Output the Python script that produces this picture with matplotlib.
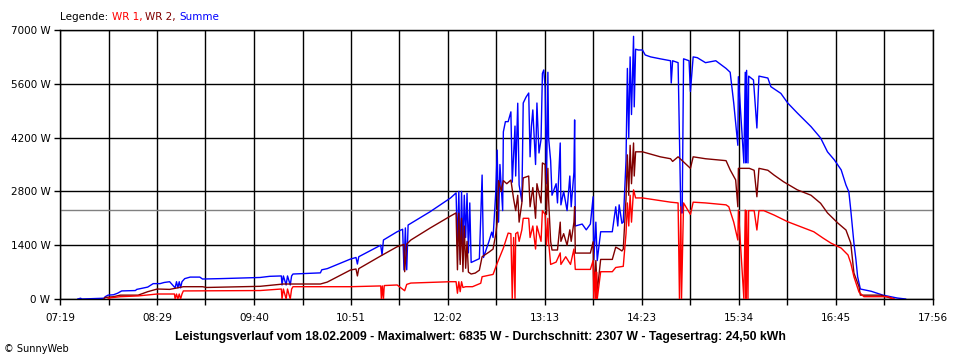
import matplotlib
matplotlib.use("Agg")
import matplotlib.pyplot as plt
from matplotlib.offsetbox import TextArea, HPacker, AnchoredOffsetbox
import numpy as np

# Zeit in Minuten seit Mitternacht, Leistung in W
t_summe = [452, 454, 455, 462, 471, 472, 474, 478, 481, 484, 494, 495, 503, 507, 512, 515, 519,
           523, 524, 525, 526, 527, 528, 530, 534, 541, 543, 556, 570, 585, 592, 600.5,
           601, 602, 604, 605, 607, 608, 609, 629, 630, 634, 651, 655, 656, 657, 673, 674, 675,
           685, 689, 690, 691, 692, 693, 709, 724, 728, 729, 730, 731, 732, 733, 734, 735, 736,
           737, 738, 739, 742, 745, 747, 748, 752, 754, 755, 757, 758, 759, 760, 762, 762.5,
           764, 766, 768, 769, 771, 771.5, 773, 774, 776, 777, 779, 781, 782, 783, 784, 786,
           787, 788.5, 790, 791, 792, 793, 794, 795, 795.5, 797, 798, 801, 802, 804, 804.5,
           806.5, 809, 811, 812, 814, 814.5, 815, 820, 823, 826, 828, 828.5, 830, 831, 833.5,
           842, 844.5, 846, 847, 849, 850, 852, 853, 854, 855, 856, 857.5, 858, 859, 861, 864,
           866, 870, 877, 884.5, 885, 886, 890, 892, 893, 894, 898, 899, 901, 904, 910, 917.5,
           925, 928, 930.6, 932, 933.6, 934, 938, 939, 939.5, 940, 941, 941.5, 945, 947.5, 949,
           955.5, 957.7, 965, 970, 977, 987, 994, 999, 1004, 1009, 1012.5, 1014.6, 1016, 1018.3,
           1019.8, 1021, 1023, 1031, 1039.5, 1050, 1056]
p_summe = [0, 20, 0, 10, 20, 60, 100, 110, 150, 210, 220, 250, 310, 400, 400, 430, 450,
           290, 450, 290, 450, 290, 450, 530, 570, 570, 520, 530, 545, 560, 590, 600,
           365, 600, 365, 600, 365, 600, 650, 680, 760, 790, 1040, 1080, 910, 1100, 1400, 1145, 1535,
           1750, 1815, 755, 1850, 760, 1925, 2270, 2630, 2760, 1360, 2800, 1015, 2800, 1300, 2700,
           1600, 2750, 1200, 2500, 950, 1000, 1050, 3225, 1080, 1500, 1740, 1600, 2800, 3875,
           2000, 3500, 2300, 4350, 4615, 4615, 4870, 3040, 4500, 3200, 5095, 2970, 2540, 5100,
           5250, 5360, 3700, 4500, 4920, 3500, 5100, 3800, 4150, 5870, 5960, 5500, 3000, 5900,
           4200, 3600, 2700, 3000, 2500, 4060, 2450, 2800, 2300, 3200, 2400, 3300, 4660, 1900,
           1950, 1800, 1950, 2660, 1015, 2000, 1000, 1750, 1750, 2400, 1900, 2450, 1970, 2000,
           3600, 6000, 4200, 6300, 4800, 6835, 5000, 6500, 6480, 6480, 6350, 6300, 6250, 6200,
           5620, 6200, 6150, 2240, 2240, 6250, 6200, 5400, 6300, 6280, 6150, 6200, 6000, 5900,
           5100, 4600, 4000, 5785, 3540, 5900, 3540, 5950, 3540, 5800, 5700, 4450, 5800, 5750,
           5525, 5350, 5100, 4840, 4485, 4190, 3830, 3620, 3360, 2965, 2790, 2315, 1455, 1015,
           580, 260, 200, 100, 25, 0]

t_wr2 = [471, 472, 478, 483, 496, 503, 510, 519, 529, 543, 546, 585, 602, 629, 634, 651, 655,
         656, 657, 673, 685, 690, 690.5, 692, 695, 709, 724, 728, 729, 730, 731, 732, 733, 734,
         735, 736, 737, 739, 742, 745, 747, 752, 755, 757, 758, 759, 761, 762.5, 765, 768, 770,
         771.5, 773, 774, 776, 777, 781, 782, 784, 786, 787, 790, 791, 793, 794, 795, 795.5,
         797, 798, 802, 804, 804.5, 806.5, 809, 811, 812, 814, 814.5, 815, 826, 828, 828.5,
         830, 831, 833.5, 842, 844.5, 847, 849, 850, 852, 853, 854, 855, 856, 857.5, 858, 859,
         864, 877, 884.5, 886, 890, 899, 901, 910, 925, 928, 932, 933.6, 934, 942, 945.5, 947.5,
         949, 955.5, 960, 967, 977, 987, 994, 999, 1006.6, 1012.5, 1016, 1018.3, 1022, 1023,
         1038, 1047.5]
p_wr2 = [0, 40, 60, 100, 100, 190, 260, 250, 320, 320, 300, 330, 390, 390, 440, 755, 780,
         600, 790, 1120, 1360, 1420, 710, 1430, 1535, 1845, 2160, 2240, 760, 2230, 900, 2100,
         710, 1900, 800, 1500, 700, 650, 675, 750, 1100, 1220, 1300, 1700, 2000, 3080, 2800,
         3080, 3000, 3095, 2600, 2300, 2700, 2000, 2500, 3150, 3200, 2400, 2900, 2100, 3000,
         2500, 3540, 3500, 2200, 3400, 2600, 1500, 1275, 1275, 2000, 1500, 1700, 1400, 1800,
         1500, 2000, 2400, 1195, 1195, 1490, 250, 1000, 200, 1030, 1030, 1350, 1300, 1250, 1300,
         2600, 3750, 2700, 4000, 3000, 4060, 3200, 3830, 3830, 3700, 3650, 3580, 3700, 3400,
         3700, 3650, 3600, 3360, 3100, 2400, 3400, 3400, 3350, 2660, 3400, 3350, 3225, 3050,
         2840, 2700, 2490, 2240, 1975, 1795, 1455, 675, 320, 100, 100, 0]

t_wr1 = [474, 475.5, 483, 496, 510, 522.5, 523, 524, 525, 526, 527, 528, 529, 585, 600.5, 601,
         602, 604, 605, 607, 608, 609, 651, 673, 673.5, 674.2, 675, 675.6, 685, 690.5, 692, 695,
         724, 728, 729, 730, 731, 732, 733, 735, 740, 744, 746, 747, 755, 758, 762.5, 766, 768,
         769, 770, 771, 771.5, 773, 774, 776, 777, 781, 782, 784, 786, 787, 790, 791, 793, 794,
         795, 795.5, 797, 801, 804, 804.5, 808, 811.5, 814, 815, 826, 828, 828.5, 829.5, 830,
         830.5, 831, 833.5, 842, 844.5, 850, 852, 853, 854, 855, 856, 857.5, 859, 864, 884.5,
         890, 891, 892, 892.5, 894, 899, 901, 910, 925, 927, 930.6, 933.6, 934, 938, 939, 939.5,
         940, 941, 941.5, 945.5, 947.5, 949, 952.5, 960, 970, 979.5, 989, 996, 1001.5, 1009,
         1014, 1016, 1018.3, 1022, 1025.6, 1043, 1047.5]
p_wr1 = [0, 30, 60, 80, 130, 130, 0, 130, 0, 130, 0, 130, 210, 220, 260, 0,
         260, 0, 260, 0, 260, 320, 320, 340, 0, 340, 0, 350, 365, 215, 380, 415,
         450, 450, 150, 450, 190, 450, 300, 320, 320, 380, 410, 580, 640, 930, 1325, 1715, 1700,
         0, 1600, 0, 1700, 1740, 1500, 1800, 2100, 2100, 1600, 1900, 1300, 1900, 1500, 2300, 2200,
         1400, 2100, 1500, 900, 960, 1200, 900, 1100, 900, 1300, 770, 770, 1000, 0, 700, 0,
         700, 0, 710, 710, 820, 850, 1700, 2500, 1900, 2700, 2000, 2840, 2630, 2630, 2520,
         2500, 0, 2400, 0, 2500, 2200, 2520, 2500, 2450, 2400, 2000, 1535, 2315, 0, 2315, 0,
         2300, 0, 2300, 2300, 1795, 2300, 2300, 2185, 2010, 1880, 1750, 1580, 1455, 1325,
         1145, 935, 580, 180, 60, 60, 0]

x_labels = ["07:19", "08:29", "09:40", "10:51", "12:02", "13:13", "14:23", "15:34", "16:45", "17:56"]
y_ticks = [0, 1400, 2800, 4200, 5600, 7000]
durchschnitt = 2307
titel = ("Leistungsverlauf vom 18.02.2009 - Maximalwert: 6835 W - "
         "Durchschnitt: 2307 W - Tagesertrag: 24,50 kWh")

plt.rcParams['font.family'] = ['DejaVu Sans']

fig = plt.figure(figsize=(9.6, 3.6), dpi=100)
ax = fig.add_axes([60 / 960, 61 / 360, 873 / 960, 269 / 360])

t0, t1 = 439, 1076
major = np.linspace(t0, t1, len(x_labels))
minor = np.linspace(t0, t1, 2 * len(x_labels) - 1)

ax.set_xlim(t0, t1)
ax.set_ylim(0, 7000)
for x in minor:
    ax.axvline(x, color='black', lw=1.0, zorder=1)
for y in y_ticks:
    ax.axhline(y, color='black', lw=1.0, zorder=1)
ax.axhline(durchschnitt, color='#808080', lw=1.0, zorder=1.5)

ax.plot(t_summe, p_summe, color='#0000FF', lw=1.0, zorder=2)
ax.plot(t_wr2, p_wr2, color='#800000', lw=1.0, zorder=3)
ax.plot(t_wr1, p_wr1, color='#FF0000', lw=1.0, zorder=4)

ax.set_xticks(major)
ax.set_xticklabels(x_labels)
ax.set_xticks(minor, minor=True)
ax.set_yticks(y_ticks)
ax.set_yticklabels([f"{v} W" for v in y_ticks])
ax.tick_params(axis='both', which='both', direction='out', length=4, width=1,
               color='black', labelsize=7.5, pad=3)
ax.tick_params(axis='x', which='major', pad=6)
for s in ax.spines.values():
    s.set_color('black')
    s.set_linewidth(1.0)

# Legende mit farbigen Teilen
parts = [("Legende: ", 'black'), ("WR 1, ", '#FF0000'), ("WR 2, ", '#800000'), ("Summe", '#0000FF')]
areas = [TextArea(s, textprops=dict(color=c, fontsize=7.5)) for s, c in parts]
box = HPacker(children=areas, align="baseline", pad=0, sep=0)
anch = AnchoredOffsetbox(loc='lower left', child=box, pad=0, frameon=False,
                         bbox_to_anchor=(60 / 960, 338 / 360), bbox_transform=fig.transFigure,
                         borderpad=0)
fig.add_artist(anch)

fig.text(480 / 960, 1 - 337 / 360, titel, ha='center', va='center',
         fontsize=8.8, fontweight='bold', family='Liberation Sans')
fig.text(4 / 960, 1 - 349 / 360, "© SunnyWeb", ha='left', va='center', fontsize=7)

fig.savefig("out.png", dpi=100)
